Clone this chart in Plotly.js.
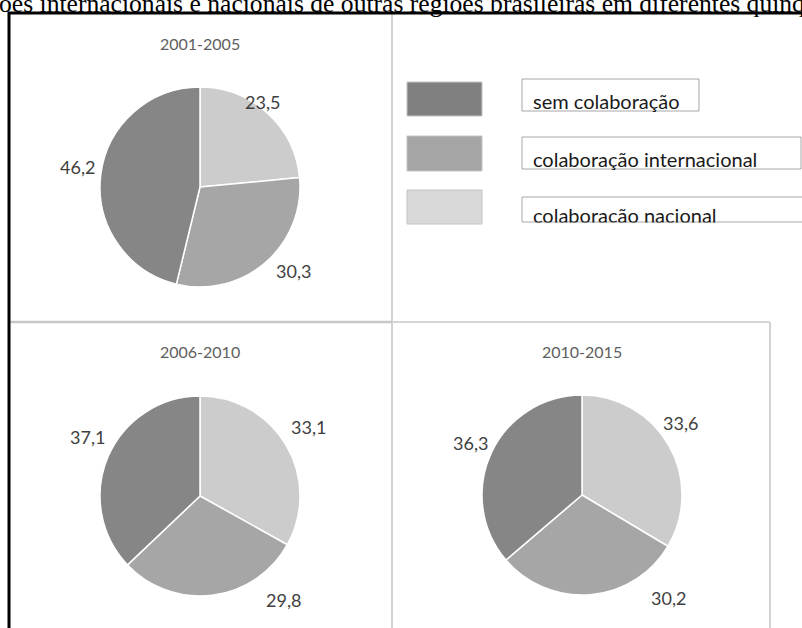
<!DOCTYPE html>
<html>
<head>
<meta charset="utf-8">
<script src="https://cdn.plot.ly/plotly-3.0.1.min.js"></script>
<style>
  html, body { margin: 0; padding: 0; background: #fff; }
  #chart { width: 802px; height: 628px; }
</style>
</head>
<body>
<div id="chart"></div>
<script>
// Share of publications by type of collaboration, per five-year period
const categories = ['sem colaboração', 'colaboração internacional', 'colaboração nacional'];
const periods = ['2001-2005', '2006-2010', '2010-2015'];
const semColaboracao = [46.2, 37.1, 36.3];
const colabInternacional = [30.3, 29.8, 30.2];
const colabNacional = [23.5, 33.1, 33.6];

// Page geometry (pixels)
const W = 802, H = 628;
const R = 100;
const panels = [
  { cx: 200, cy: 187, titleY: 43 },
  { cx: 200, cy: 496, titleY: 351 },
  { cx: 582, cy: 495, titleY: 351 }
];
// label offsets from the pie centre, order: sem, internacional, nacional
const labelOffsets = [
  [[-123, -20], [93, 84], [62, -85]],
  [[-113, -59], [83, 104], [108, -69]],
  [[-112, -52], [86, 103], [98, -72]]
];
const colors = { sem: '#868686', inter: '#a6a6a6', nac: '#cccccc' };
const swatchColors = ['#808080', '#a5a5a5', '#d9d9d9'];

const px = x => x / W;
const py = y => 1 - y / H;
const fmt = v => v.toFixed(1).replace('.', ',');

const traces = periods.map((p, i) => ({
  type: 'pie',
  // clockwise from 12 o'clock: nacional, internacional, sem colaboração
  labels: [categories[2], categories[1], categories[0]],
  values: [colabNacional[i], colabInternacional[i], semColaboracao[i]],
  sort: false,
  direction: 'clockwise',
  rotation: 0,
  textinfo: 'none',
  hoverinfo: 'skip',
  showlegend: false,
  marker: {
    colors: [colors.nac, colors.inter, colors.sem],
    line: { color: '#ffffff', width: 1.5 }
  },
  domain: {
    x: [px(panels[i].cx - R), px(panels[i].cx + R)],
    y: [py(panels[i].cy + R), py(panels[i].cy - R)]
  }
}));

const annotations = [];
const labelFont = { family: 'Lato, sans-serif', size: 18, color: '#404040' };

periods.forEach((p, i) => {
  const pn = panels[i];
  annotations.push({
    text: p, x: px(pn.cx), y: py(pn.titleY), xref: 'paper', yref: 'paper',
    xanchor: 'center', yanchor: 'middle', showarrow: false,
    font: { family: 'Lato, sans-serif', size: 16, color: '#5e5e5e' }
  });
  const vals = [semColaboracao[i], colabInternacional[i], colabNacional[i]];
  vals.forEach((v, k) => {
    const o = labelOffsets[i][k];
    annotations.push({
      text: fmt(v), x: px(pn.cx + o[0]), y: py(pn.cy + o[1]),
      xref: 'paper', yref: 'paper', xanchor: 'center', yanchor: 'middle',
      showarrow: false, font: labelFont
    });
  });
});

// Heading line running off the top of the page
annotations.push({
  text: 'ões internacionais e nacionais de outras regiões brasileiras em diferentes quinquênios',
  x: px(-2), y: py(-12.5), xref: 'paper', yref: 'paper',
  xanchor: 'left', yanchor: 'top', showarrow: false, borderpad: 0,
  font: { family: 'Liberation Serif, serif', size: 25.6, color: '#000' }
});

// Legend: swatches and framed labels
const legendRows = [
  { swY: [82, 116], box: [522, 79, 699, 111], textTop: 87.5, textH: 26 },
  { swY: [136, 171], box: [522, 137, 801, 169], textTop: 146, textH: 26 },
  { swY: [190, 224], box: [522, 197, 840, 222], textTop: 202.5, textH: 19.5 }
];

const shapes = [];
const line = (x0, y0, x1, y1, color, width) => ({
  type: 'line', xref: 'paper', yref: 'paper',
  x0: px(x0), y0: py(y0), x1: px(x1), y1: py(y1),
  line: { color: color, width: width }
});

// panel frames
shapes.push(line(392, 14, 392, 628, '#d2d2d2', 2));
shapes.push(line(10, 322, 392, 322, '#c8c8c8', 2.5));
shapes.push(line(392, 322, 770, 322, '#d6d6d6', 2));
shapes.push(line(770, 322, 770, 628, '#d2d2d2', 2));
// outer black frame
shapes.push(line(8, 13, 802, 13, '#000000', 3));
shapes.push(line(9, 12, 9, 628, '#000000', 3));

legendRows.forEach((row, k) => {
  shapes.push({
    type: 'rect', xref: 'paper', yref: 'paper',
    x0: px(407), x1: px(482), y0: py(row.swY[1]), y1: py(row.swY[0]),
    fillcolor: swatchColors[k], line: { color: '#c4c4c4', width: 1 }
  });
  shapes.push({
    type: 'rect', xref: 'paper', yref: 'paper',
    x0: px(row.box[0]), x1: px(row.box[2]), y0: py(row.box[3]), y1: py(row.box[1]),
    fillcolor: 'rgba(0,0,0,0)', line: { color: '#a6a6a6', width: 1 }
  });
  annotations.push({
    text: categories[k], x: px(532), y: py(row.textTop),
    xref: 'paper', yref: 'paper', xanchor: 'left', yanchor: 'top',
    width: 300, height: row.textH, align: 'left', valign: 'top',
    borderpad: 0, showarrow: false,
    font: { family: 'Lato, sans-serif', size: 20, color: '#1a1a1a' }
  });
});

const layout = {
  width: W, height: H,
  margin: { l: 0, r: 0, t: 0, b: 0, pad: 0 },
  paper_bgcolor: '#ffffff',
  plot_bgcolor: '#ffffff',
  showlegend: false,
  annotations: annotations,
  shapes: shapes
};

Plotly.newPlot('chart', traces, layout, { staticPlot: true, displayModeBar: false });
</script>
</body>
</html>
